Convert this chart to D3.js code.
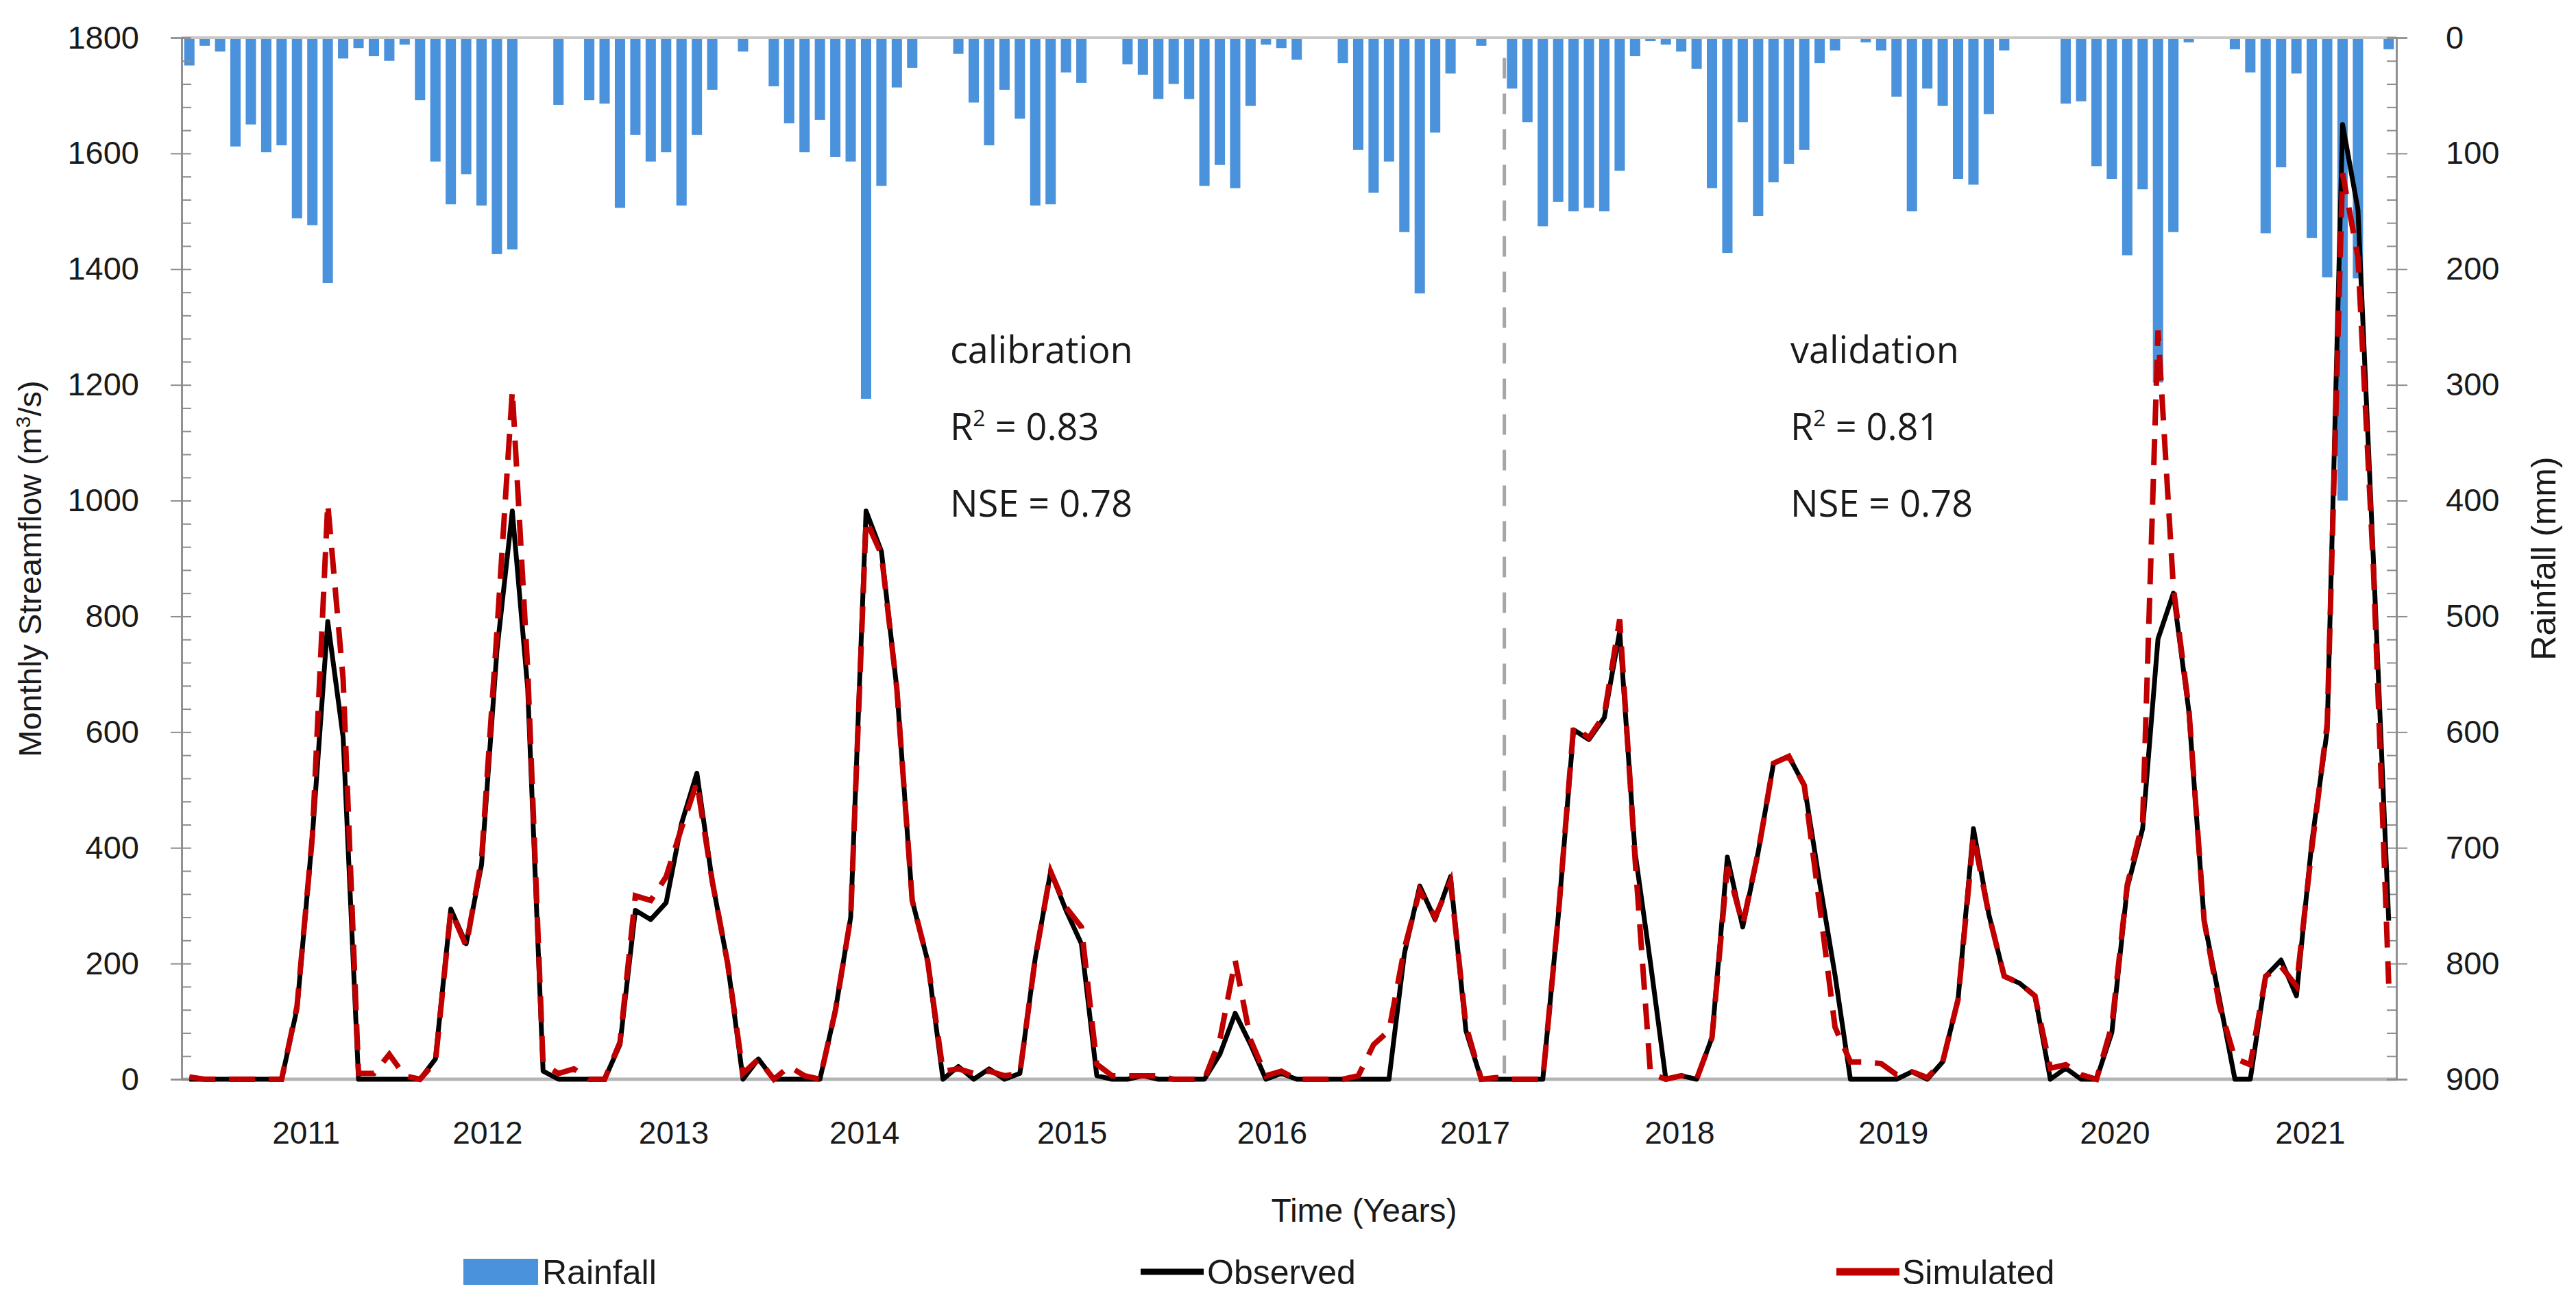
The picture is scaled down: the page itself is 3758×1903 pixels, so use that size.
<!DOCTYPE html>
<html>
<head>
<meta charset="utf-8">
<script src="https://cdn.jsdelivr.net/npm/d3@7"></script>
<style>
  body { margin: 0; background: #fff; }
  text { font-family: "Liberation Sans", Arial, sans-serif; fill: #1a1a1a; }
  .note text { font-family: "Open Sans", "Noto Sans", sans-serif; }
</style>
</head>
<body>
<svg id="chart" width="3758" height="1903"></svg>
<script>
// monthly rainfall (mm), Jan 2010 - Dec 2021
var rainfall = [
    24, 7, 12, 94, 75, 99, 93, 156, 162, 212, 18, 9,
    16, 20, 6, 54, 107, 144, 118, 145, 187, 183, 0, 0,
    58, 0, 54, 57, 147, 84, 107, 99, 145, 84, 45, 0,
    12, 0, 42, 74, 99, 71, 103, 107, 312, 128, 43, 26,
    0, 0, 14, 56, 93, 45, 70, 145, 144, 30, 39, 0,
    0, 23, 32, 53, 40, 53, 128, 110, 130, 59, 6, 9,
    19, 0, 0, 22, 97, 134, 107, 168, 221, 82, 31, 0,
    7, 0, 44, 73, 163, 142, 150, 147, 150, 115, 16, 3,
    6, 12, 27, 130, 186, 73, 154, 125, 109, 97, 22, 11,
    0, 4, 11, 51, 150, 44, 59, 122, 127, 66, 11, 0,
    0, 0, 57, 55, 111, 122, 188, 131, 298, 168, 4, 0,
    0, 10, 30, 169, 112, 31, 173, 207, 400, 208, 0, 10
];

// observed monthly streamflow (m3/s)
var observed = [
    0, 0, 0, 0, 0, 0, 0, 122, 420, 791, 591, 0,
    0, 0, 0, 0, 35, 294, 234, 371, 741, 982, 675, 14,
    0, 0, 0, 0, 60, 292, 276, 305, 442, 529, 342, 200,
    0, 35, 0, 0, 0, 0, 118, 280, 982, 912, 675, 309,
    205, 0, 22, 0, 18, 0, 10, 209, 359, 292, 234, 6,
    0, 0, 6, 0, 0, 0, 0, 43, 114, 60, 0, 10,
    0, 0, 0, 0, 0, 0, 0, 217, 334, 276, 350, 84,
    0, 0, 0, 0, 0, 280, 604, 587, 625, 774, 392, 201,
    0, 6, 0, 72, 384, 263, 392, 546, 558, 508, 340, 180,
    0, 0, 0, 0, 13, 0, 30, 138, 433, 285, 178, 166,
    144, 0, 19, 0, 0, 81, 331, 433, 761, 840, 637, 274,
    138, 0, 0, 178, 206, 144, 410, 603, 1650, 1503, 900, 274
];

// simulated monthly streamflow (m3/s)
var simulated = [
    4, 0, 0, 0, 0, 0, 0, 126, 420, 995, 691, 10,
    10, 43, 6, 0, 30, 292, 230, 380, 774, 1190, 708, 26,
    10, 18, 0, 0, 64, 317, 309, 350, 434, 513, 342, 200,
    10, 35, 0, 22, 6, 0, 118, 280, 966, 907, 675, 309,
    205, 14, 18, 10, 14, 6, 10, 209, 359, 297, 263, 26,
    6, 6, 6, 6, 0, 0, 0, 68, 205, 68, 6, 14,
    0, 0, 0, 0, 6, 60, 84, 226, 326, 280, 342, 93,
    0, 3, 0, 0, 0, 280, 610, 590, 630, 795, 380, 10,
    0, 6, 0, 72, 367, 267, 392, 546, 558, 508, 300, 90,
    30, 30, 27, 8, 13, 3, 30, 138, 421, 285, 178, 166,
    144, 19, 25, 8, 0, 93, 336, 444, 1294, 850, 642, 274,
    127, 36, 25, 178, 195, 161, 399, 614, 1566, 1420, 886, 165
];

// year labels and where they sit along the month axis
var yearLabels = ["2011", "2012", "2013", "2014", "2015", "2016", "2017", "2018", "2019", "2020", "2021"];
var yearPos = [8.1, 19.9, 32.0, 44.4, 57.9, 70.9, 84.1, 97.4, 111.3, 125.7, 138.4];
var splitMonth = 86; // calibration | validation

var flowTicks = d3.range(0, 1801, 200);
var rainTicks = d3.range(0, 901, 100);

var W = 3758, H = 1903;
var plot = { left: 265, right: 3496, top: 55, bottom: 1575 };
var svg = d3.select("#chart");

svg.append("rect").attr("width", W).attr("height", H).attr("fill", "#fff");

// scales
var xBand = d3.scaleBand()
    .domain(d3.range(rainfall.length))
    .range([plot.left, plot.right])
    .paddingInner(0.33)
    .paddingOuter(0.165);
var xLin = d3.scaleLinear().domain([0, rainfall.length]).range([plot.left, plot.right]);
var yFlow = d3.scaleLinear().domain([0, 1800]).range([plot.bottom, plot.top]);
var yRain = d3.scaleLinear().domain([0, 900]).range([plot.top, plot.bottom]);

// rainfall bars hanging from top
svg.append("g").selectAll("rect")
    .data(rainfall)
    .enter()
    .append("rect")
    .attr("x", function (d, i) { return xBand(i); })
    .attr("y", yRain(0))
    .attr("width", xBand.bandwidth())
    .attr("height", function (d) { return yRain(d) - yRain(0); })
    .attr("fill", "#4a92dc");

// top and bottom axis lines
svg.append("line")
    .attr("x1", plot.left).attr("x2", plot.right)
    .attr("y1", yRain(0)).attr("y2", yRain(0))
    .attr("stroke", "#c8c8c8").attr("stroke-width", 4);
svg.append("line")
    .attr("x1", plot.left).attr("x2", plot.right)
    .attr("y1", yFlow(0)).attr("y2", yFlow(0))
    .attr("stroke", "#b4b4b4").attr("stroke-width", 5);

// left axis: majors outward with labels, minors inward
svg.append("g")
    .attr("transform", "translate(" + plot.left + ",0)")
    .call(d3.axisLeft(yFlow).tickValues(flowTicks).tickSize(16).tickPadding(46).tickFormat(d3.format("d")));
svg.append("g")
    .attr("transform", "translate(" + plot.left + ",0)")
    .call(d3.axisRight(yFlow).tickValues(d3.range(0, 1801, 40)).tickSize(14).tickFormat(""));

// right axis (rainfall, reversed)
svg.append("g")
    .attr("transform", "translate(" + plot.right + ",0)")
    .call(d3.axisRight(yRain).tickValues(rainTicks).tickSize(16).tickPadding(56));
svg.append("g")
    .attr("transform", "translate(" + plot.right + ",0)")
    .call(d3.axisLeft(yRain).tickValues(d3.range(0, 901, 20)).tickSize(14).tickFormat(""));

svg.selectAll(".domain").attr("stroke", "#8c8c8c").attr("stroke-width", 2.5);
svg.selectAll(".tick line").attr("stroke", "#8c8c8c").attr("stroke-width", 2);
svg.selectAll(".tick text")
    .style("font-size", "47px")
    .style("font-family", "'Liberation Sans', Arial, sans-serif")
    .attr("fill", "#1a1a1a");

// year labels
svg.append("g").selectAll("text")
    .data(yearLabels)
    .enter()
    .append("text")
    .attr("x", function (d, i) { return xLin(yearPos[i]); })
    .attr("y", 1669)
    .attr("text-anchor", "middle")
    .style("font-size", "46px")
    .text(function (d) { return d; });

// calibration / validation split
svg.append("line")
    .attr("x1", xLin(splitMonth)).attr("x2", xLin(splitMonth))
    .attr("y1", yFlow(1765)).attr("y2", yFlow(10))
    .attr("stroke", "#a6a6a6").attr("stroke-width", 5)
    .attr("stroke-dasharray", "30,22");

// streamflow lines
var line = d3.line()
    .x(function (d, i) { return xLin(i + 0.5); })
    .y(function (d) { return yFlow(d); });

svg.append("path")
    .datum(observed)
    .attr("d", line)
    .attr("fill", "none")
    .attr("stroke", "#000")
    .attr("stroke-width", 7)
    .attr("stroke-linejoin", "round");

svg.append("path")
    .datum(simulated)
    .attr("d", line)
    .attr("fill", "none")
    .attr("stroke", "#c00000")
    .attr("stroke-width", 8)
    .attr("stroke-dasharray", "38,20");

// statistics text
function stats(x, title, r2, nse) {
    var g = svg.append("g").attr("class", "note").style("font-size", "54px");
    g.append("text").attr("x", x).attr("y", 530).text(title);
    var t = g.append("text").attr("x", x).attr("y", 642);
    t.append("tspan").text("R");
    t.append("tspan").attr("dy", -20).style("font-size", "32px").text("2");
    t.append("tspan").attr("dy", 20).text(" = " + r2);
    g.append("text").attr("x", x).attr("y", 754).text("NSE = " + nse);
}
stats(1386, "calibration", "0.83", "0.78");
stats(2612, "validation", "0.81", "0.78");

// axis titles
svg.append("text")
    .attr("transform", "translate(60,830) rotate(-90)")
    .attr("text-anchor", "middle")
    .style("font-size", "47px")
    .html("Monthly Streamflow (m<tspan dy='-16' font-size='30px'>3</tspan><tspan dy='16'>/s)</tspan>");
svg.append("text")
    .attr("transform", "translate(3728,815) rotate(-90)")
    .attr("text-anchor", "middle")
    .style("font-size", "50px")
    .text("Rainfall (mm)");
svg.append("text")
    .attr("x", 1990).attr("y", 1783)
    .attr("text-anchor", "middle")
    .style("font-size", "48px")
    .text("Time (Years)");

// legend
var legend = svg.append("g").style("font-size", "50px");
legend.append("rect").attr("x", 676).attr("y", 1837).attr("width", 109).attr("height", 38).attr("fill", "#4a92dc");
legend.append("text").attr("x", 791).attr("y", 1874).text("Rainfall");
legend.append("line").attr("x1", 1664).attr("x2", 1756).attr("y1", 1856).attr("y2", 1856)
    .attr("stroke", "#000").attr("stroke-width", 9);
legend.append("text").attr("x", 1761).attr("y", 1874).text("Observed");
legend.append("line").attr("x1", 2679).attr("x2", 2771).attr("y1", 1856).attr("y2", 1856)
    .attr("stroke", "#c00000").attr("stroke-width", 11);
legend.append("text").attr("x", 2775).attr("y", 1874).text("Simulated");
</script>
</body>
</html>
